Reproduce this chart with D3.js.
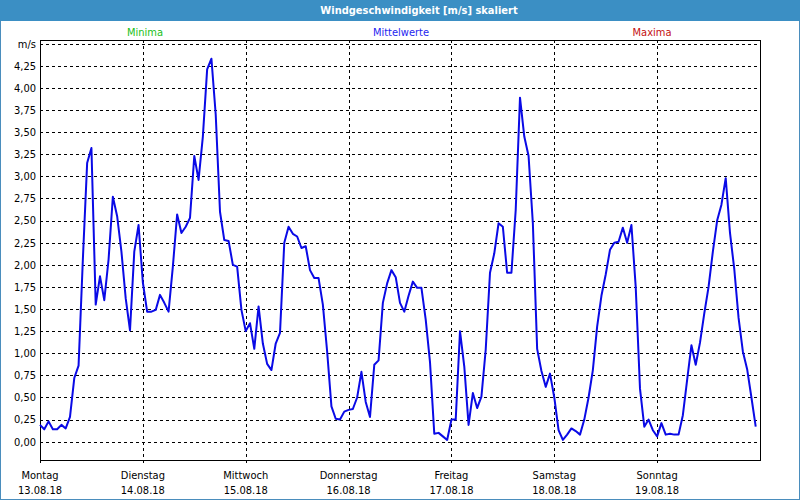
<!DOCTYPE html>
<html>
<head>
<meta charset="utf-8">
<script src="https://cdn.jsdelivr.net/npm/d3@7"></script>
<style>
  body { margin: 0; background: #fff; }
  svg { display: block; font-family: "DejaVu Sans Condensed", "DejaVu Sans", sans-serif; }
</style>
</head>
<body>
<div id="chart"></div>
<script>
// days shown under the x axis
var dayNames = ["Montag", "Dienstag", "Mittwoch", "Donnerstag", "Freitag", "Samstag", "Sonntag"];
var dayDates = ["13.08.18", "14.08.18", "15.08.18", "16.08.18", "17.08.18", "18.08.18", "19.08.18"];

// hourly mean wind speed in m/s, 13.08. 00:00 .. 19.08. 23:00
var windValues = [
  0.19, 0.14, 0.23, 0.14, 0.14, 0.19, 0.15, 0.28, 0.72, 0.86, 2.06, 3.15,
  3.32, 1.55, 1.87, 1.60, 2.06, 2.77, 2.55, 2.15, 1.62, 1.26, 2.15, 2.45,
  1.80, 1.47, 1.47, 1.49, 1.66, 1.57, 1.47, 1.98, 2.57, 2.36, 2.43, 2.53,
  3.23, 2.96, 3.45, 4.21, 4.33, 3.70, 2.60, 2.28, 2.27, 2.00, 1.98, 1.49,
  1.25, 1.34, 1.05, 1.53, 1.11, 0.88, 0.81, 1.11, 1.23, 2.25, 2.43, 2.35,
  2.32, 2.19, 2.21, 1.94, 1.85, 1.85, 1.55, 1.02, 0.40, 0.26, 0.25, 0.34,
  0.36, 0.37, 0.50, 0.79, 0.45, 0.28, 0.87, 0.92, 1.57, 1.79, 1.94, 1.86,
  1.57, 1.47, 1.65, 1.81, 1.74, 1.74, 1.38, 0.90, 0.09, 0.10, 0.06, 0.02,
  0.25, 0.25, 1.25, 0.85, 0.19, 0.55, 0.38, 0.51, 1.04, 1.91, 2.13, 2.47,
  2.43, 1.91, 1.91, 2.62, 3.89, 3.45, 3.23, 2.47, 1.05, 0.80, 0.62, 0.77,
  0.50, 0.13, 0.02, 0.08, 0.15, 0.12, 0.08, 0.25, 0.50, 0.81, 1.30, 1.65,
  1.89, 2.17, 2.25, 2.26, 2.42, 2.25, 2.45, 1.75, 0.60, 0.17, 0.25, 0.13,
  0.06, 0.21, 0.08, 0.09, 0.08, 0.08, 0.30, 0.70, 1.09, 0.87, 1.12, 1.45,
  1.75, 2.15, 2.50, 2.68, 2.98, 2.36, 1.95, 1.40, 1.02, 0.82, 0.50, 0.17
];

// y grid steps, top line is labelled with the unit
var yTicks = [0, 0.25, 0.5, 0.75, 1, 1.25, 1.5, 1.75, 2, 2.25, 2.5, 2.75, 3, 3.25, 3.5, 3.75, 4, 4.25];
var yUnitValue = 4.5;

var legendItems = ["Minima", "Mittelwerte", "Maxima"];
var legendColors = ["#19c019", "#2424f0", "#c41010"];

var width = 800, height = 500;
var plot = { left: 40, right: 760, top: 40, bottom: 460 };

var svg = d3.select("#chart")
  .append("svg")
  .attr("width", width)
  .attr("height", height);

// window frame + title bar
svg.append("rect")
  .attr("x", 0.5).attr("y", 0.5)
  .attr("width", width - 1).attr("height", height - 1)
  .attr("fill", "#fff")
  .attr("stroke", "#4a8dbd");

svg.append("rect")
  .attr("x", 0).attr("y", 0)
  .attr("width", width).attr("height", 21)
  .attr("fill", "#3b8fc4");

svg.append("text")
  .attr("x", 419).attr("y", 10.5)
  .attr("dy", "0.35em")
  .attr("text-anchor", "middle")
  .attr("font-size", "11px")
  .attr("font-weight", "bold")
  .attr("fill", "#fff")
  .text("Windgeschwindigkeit [m/s] skaliert");

// legend line
var legendX = [145, 401, 652];
svg.selectAll(".legend")
  .data(legendItems)
  .enter()
  .append("text")
  .attr("class", "legend")
  .attr("x", function(d, i) { return legendX[i]; })
  .attr("y", 32)
  .attr("dy", "0.35em")
  .attr("text-anchor", "middle")
  .attr("font-size", "11px")
  .attr("fill", function(d, i) { return legendColors[i]; })
  .text(function(d) { return d; });

var x = d3.scaleLinear()
  .domain([0, dayNames.length * 24])
  .range([plot.left, plot.right]);

var y = d3.scaleLinear()
  .domain([0, yUnitValue])
  .range([441.7, 43.7]);

// horizontal grid
var gridY = yTicks.concat([yUnitValue]);
svg.selectAll(".hgrid")
  .data(gridY)
  .enter()
  .append("line")
  .attr("class", "hgrid")
  .attr("x1", plot.left)
  .attr("x2", plot.right)
  .attr("y1", function(d) { return Math.round(y(d)) + 0.5; })
  .attr("y2", function(d) { return Math.round(y(d)) + 0.5; })
  .attr("stroke", "#000")
  .attr("stroke-dasharray", "3,3")
  .attr("shape-rendering", "crispEdges");

// vertical day lines, running a bit below the axis as ticks
svg.selectAll(".vgrid")
  .data(dayNames)
  .enter()
  .append("line")
  .attr("class", "vgrid")
  .attr("x1", function(d, i) { return Math.round(x(i * 24)) + 0.5; })
  .attr("x2", function(d, i) { return Math.round(x(i * 24)) + 0.5; })
  .attr("y1", plot.top)
  .attr("y2", plot.bottom + 5)
  .attr("stroke", "#000")
  .attr("stroke-dasharray", "3,3")
  .attr("shape-rendering", "crispEdges");

// y labels
svg.selectAll(".ylab")
  .data(gridY)
  .enter()
  .append("text")
  .attr("class", "ylab")
  .attr("x", 36)
  .attr("y", function(d) { return y(d); })
  .attr("dy", "0.35em")
  .attr("text-anchor", "end")
  .attr("font-size", "11px")
  .attr("fill", "#000")
  .text(function(d) { return d === yUnitValue ? "m/s" : d3.format(".2f")(d).replace(".", ","); });

// x labels
var xLabels = svg.selectAll(".xlab")
  .data(dayNames)
  .enter()
  .append("g")
  .attr("class", "xlab")
  .attr("transform", function(d, i) { return "translate(" + x(i * 24) + ",0)"; });

xLabels.append("text")
  .attr("y", 475)
  .attr("dy", "0.35em")
  .attr("text-anchor", "middle")
  .attr("font-size", "11px")
  .text(function(d) { return d; });

xLabels.append("text")
  .attr("y", 490)
  .attr("dy", "0.35em")
  .attr("text-anchor", "middle")
  .attr("font-size", "11px")
  .text(function(d, i) { return dayDates[i]; });

// plot frame
svg.append("rect")
  .attr("x", plot.left + 0.5)
  .attr("y", plot.top + 0.5)
  .attr("width", plot.right - plot.left)
  .attr("height", plot.bottom - plot.top)
  .attr("fill", "none")
  .attr("stroke", "#000")
  .attr("stroke-width", 1)
  .attr("shape-rendering", "crispEdges");

// wind line
var line = d3.line()
  .x(function(d, i) { return x(i); })
  .y(function(d) { return y(d); });

svg.append("path")
  .datum(windValues)
  .attr("d", line)
  .attr("fill", "none")
  .attr("stroke", "#0a0ae6")
  .attr("stroke-width", 2)
  .attr("stroke-linejoin", "round");
</script>
</body>
</html>
